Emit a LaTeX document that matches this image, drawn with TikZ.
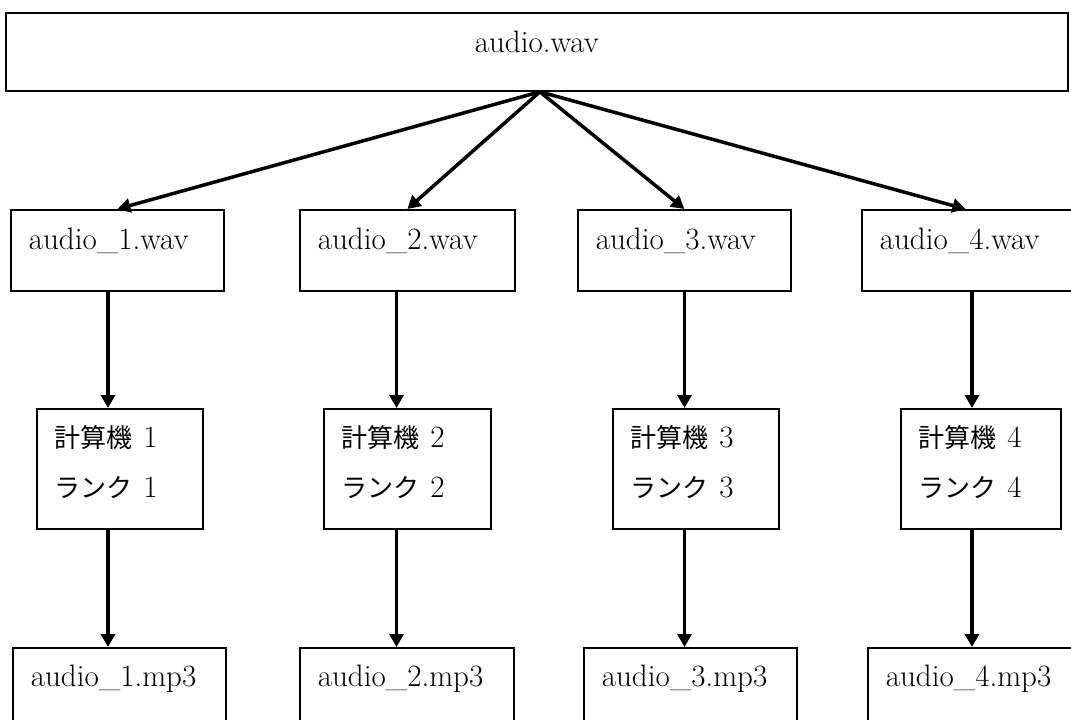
\documentclass[tikz,border=0pt]{standalone}
\usepackage{fontspec}
\newfontfamily\jpfont[Scale=0.84]{Noto Sans CJK JP}
\usetikzlibrary{arrows.meta}

\begin{document}
\begin{tikzpicture}[
    x=1pt, y=-1pt,
    >={Triangle[length=13pt, width=14pt]},
    box/.style={rectangle, draw=black, line width=1.8pt, anchor=north west, inner xsep=18pt, inner ysep=0pt, align=left, text height=40pt, font=\fontsize{31}{37}\selectfont},
    wavbox/.style={box, text width=#1, text depth=41pt},
    pcbox/.style={box, text width=#1, text height=39pt, text depth=81pt, font=\fontsize{31}{50}\selectfont},
    mpbox/.style={box, text width=#1, text height=39pt, text depth=60pt},
    flow/.style={->, line width=3.5pt}
  ]
    \useasboundingbox (0,0) rectangle (1071,720);

    \node[box, text width=1026pt, align=center, text depth=38pt] (src) at (5,12) {audio.wav};

    \node[wavbox=177pt] (wav1) at (10,209) {audio\_1.wav};
    \node[wavbox=179pt] (wav2) at (299,209) {audio\_2.wav};
    \node[wavbox=177pt] (wav3) at (577,209) {audio\_3.wav};
    \node[wavbox=179pt] (wav4) at (861,209) {audio\_4.wav};

    \node[pcbox=130pt] (pc1) at (36,408) {{\jpfont 計算機} 1\\{\jpfont ランク} 1};
    \node[pcbox=131pt] (pc2) at (323,408) {{\jpfont 計算機} 2\\{\jpfont ランク} 2};
    \node[pcbox=130pt] (pc3) at (612,408) {{\jpfont 計算機} 3\\{\jpfont ランク} 3};
    \node[pcbox=124pt] (pc4) at (900,408) {{\jpfont 計算機} 4\\{\jpfont ランク} 4};

    \node[mpbox=177pt] (out1) at (12,647) {audio\_1.mp3};
    \node[mpbox=178pt] (out2) at (299,647) {audio\_2.mp3};
    \node[mpbox=177pt] (out3) at (583,647) {audio\_3.mp3};
    \node[mpbox=179pt] (out4) at (867,647) {audio\_4.mp3};

    % columns of the vertical arrows
    \coordinate (c1) at (108,0);
    \coordinate (c2) at (396.5,0);
    \coordinate (c3) at (684.5,0);
    \coordinate (c4) at (972,0);

    \draw[flow] ([xshift=3pt]src.south) -- (wav1.north);
    \draw[flow] ([xshift=3pt]src.south) -- (wav2.north);
    \draw[flow] ([xshift=3pt]src.south) -- (wav3.north);
    \draw[flow] ([xshift=3pt]src.south) -- ([xshift=-4pt]wav4.north);

    \draw[flow] (wav1.south -| c1) -- (pc1.north -| c1);
    \draw[flow] (wav2.south -| c2) -- (pc2.north -| c2);
    \draw[flow] (wav3.south -| c3) -- (pc3.north -| c3);
    \draw[flow] (wav4.south -| c4) -- (pc4.north -| c4);

    \draw[flow] (pc1.south -| c1) -- (out1.north -| c1);
    \draw[flow] (pc2.south -| c2) -- (out2.north -| c2);
    \draw[flow] (pc3.south -| c3) -- (out3.north -| c3);
    \draw[flow] (pc4.south -| c4) -- (out4.north -| c4);
  \end{tikzpicture}
\end{document}
